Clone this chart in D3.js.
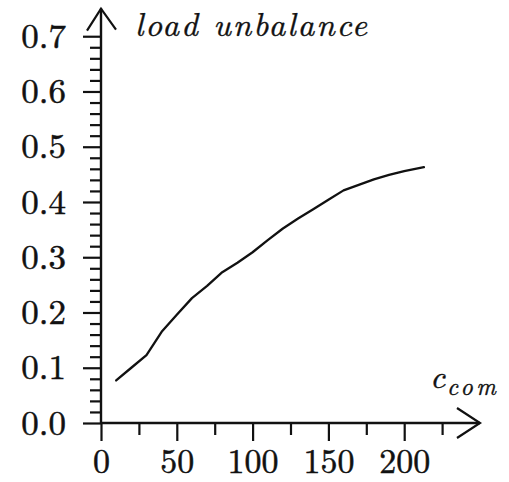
<!DOCTYPE html>
<html>
<head>
<meta charset="utf-8">
<script src="https://cdn.jsdelivr.net/npm/d3@7"></script>
<style>
  html, body { margin: 0; padding: 0; background: #fff; }
  svg { display: block; }
</style>
</head>
<body>
<svg id="chart" width="509" height="482"></svg>
<script>
// ---- data ----
const xValues = [10, 20, 30, 40, 50, 60, 70, 80, 90, 100, 110, 120, 130, 140, 150, 160, 170, 180, 190, 200, 213];
const yValues = [0.077, 0.100, 0.123, 0.165, 0.196, 0.226, 0.248, 0.273, 0.290, 0.309, 0.331, 0.352, 0.370, 0.387, 0.404, 0.421, 0.431, 0.441, 0.449, 0.456, 0.463];
const xMajorTicks = [0, 50, 100, 150, 200];
const xMinorTicks = [25, 75, 125, 175, 225];
const yMajorTicks = [0.0, 0.1, 0.2, 0.3, 0.4, 0.5, 0.6, 0.7];
const yMinorTicks = [0.02, 0.04, 0.06, 0.08, 0.12, 0.14, 0.16, 0.18, 0.22, 0.24, 0.26, 0.28,
                     0.32, 0.34, 0.36, 0.38, 0.42, 0.44, 0.46, 0.48, 0.52, 0.54, 0.56, 0.58,
                     0.62, 0.64, 0.66, 0.68];
const yLabel = "load unbalance";
const xLabelMain = "c";
const xLabelSub = "com";

// ---- layout ----
const svg = d3.select("#chart");
const x = d3.scaleLinear().domain([0, 250]).range([101, 480]);
const y = d3.scaleLinear().domain([0, 0.75]).range([423, 8.6]);
const ink = "#111";
const FONT = '"Latin Modern Roman", "Liberation Serif", serif';

// minor ticks
svg.append("g").attr("transform", `translate(${x(0)},0)`)
  .call(d3.axisLeft(y).tickValues(yMinorTicks).tickSize(11).tickFormat(""))
  .call(g => g.select(".domain").remove());
svg.append("g").attr("transform", `translate(0,${y(0)})`)
  .call(d3.axisBottom(x).tickValues(xMinorTicks).tickSize(12).tickFormat(""))
  .call(g => g.select(".domain").remove());

// major ticks with labels
const yAxisG = svg.append("g").attr("transform", `translate(${x(0)},0)`)
  .call(d3.axisLeft(y).tickValues(yMajorTicks).tickSize(18).tickPadding(17).tickFormat(d3.format(".1f")))
  .call(g => g.select(".domain").remove());
const xAxisG = svg.append("g").attr("transform", `translate(0,${y(0)})`)
  .call(d3.axisBottom(x).tickValues(xMajorTicks).tickSize(18).tickPadding(7.4).tickFormat(d3.format("d")))
  .call(g => g.select(".domain").remove());

svg.selectAll("g").attr("font-family", FONT);
svg.selectAll(".tick line").attr("stroke", ink).attr("stroke-width", 2.2);
svg.selectAll(".tick text").attr("fill", ink)
  .attr("stroke", ink).attr("stroke-width", 0.5)
  .attr("font-family", FONT)
  .style("font-family", FONT);
yAxisG.selectAll(".tick text").attr("font-size", 35).style("font-size", "35px");
xAxisG.selectAll(".tick text").attr("font-size", 34).style("font-size", "34px");

// axis lines with arrows
svg.append("line").attr("x1", x(0)).attr("y1", y(0)).attr("x2", x(0)).attr("y2", y(0.75))
  .attr("stroke", ink).attr("stroke-width", 2.4);
svg.append("line").attr("x1", x(0)).attr("y1", y(0)).attr("x2", x(250)).attr("y2", y(0))
  .attr("stroke", ink).attr("stroke-width", 2.4);
svg.append("path")
  .attr("d", `M${x(0) - 14},${y(0.75) + 22} L${x(0)},${y(0.75)} L${x(0) + 15},${y(0.75) + 21}`)
  .attr("fill", "none").attr("stroke", ink).attr("stroke-width", 2.2);
svg.append("path")
  .attr("d", `M${x(250) - 23},${y(0) - 15} L${x(250)},${y(0)} L${x(250) - 23},${y(0) + 15}`)
  .attr("fill", "none").attr("stroke", ink).attr("stroke-width", 2.2);

// data line
const pts = xValues.map((v, i) => [v, yValues[i]]);
svg.append("path").datum(pts)
  .attr("d", d3.line().x(d => x(d[0])).y(d => y(d[1])))
  .attr("fill", "none").attr("stroke", ink).attr("stroke-width", 2.3)
  .attr("stroke-linejoin", "round").attr("stroke-linecap", "round");

// labels
svg.append("text").attr("x", 135).attr("y", 36)
  .attr("textLength", 232).attr("lengthAdjust", "spacing")
  .attr("font-family", FONT).attr("font-style", "italic").attr("font-size", 33)
  .style("font-family", FONT).style("font-style", "italic").style("font-size", "33px")
  .attr("stroke", ink).attr("stroke-width", 0.4)
  .attr("fill", ink).text(yLabel);

const xl = svg.append("text").attr("x", 430).attr("y", 388)
  .attr("font-family", FONT).attr("font-style", "italic")
  .style("font-family", FONT).style("font-style", "italic")
  .attr("stroke", ink).attr("stroke-width", 0.4).attr("fill", ink);
xl.append("tspan").style("font-size", "33px").text(xLabelMain);
xl.append("tspan").attr("x", 447).attr("y", 395).style("font-size", "24px")
  .attr("textLength", 49).attr("lengthAdjust", "spacing").text(xLabelSub);
</script>
</body>
</html>
